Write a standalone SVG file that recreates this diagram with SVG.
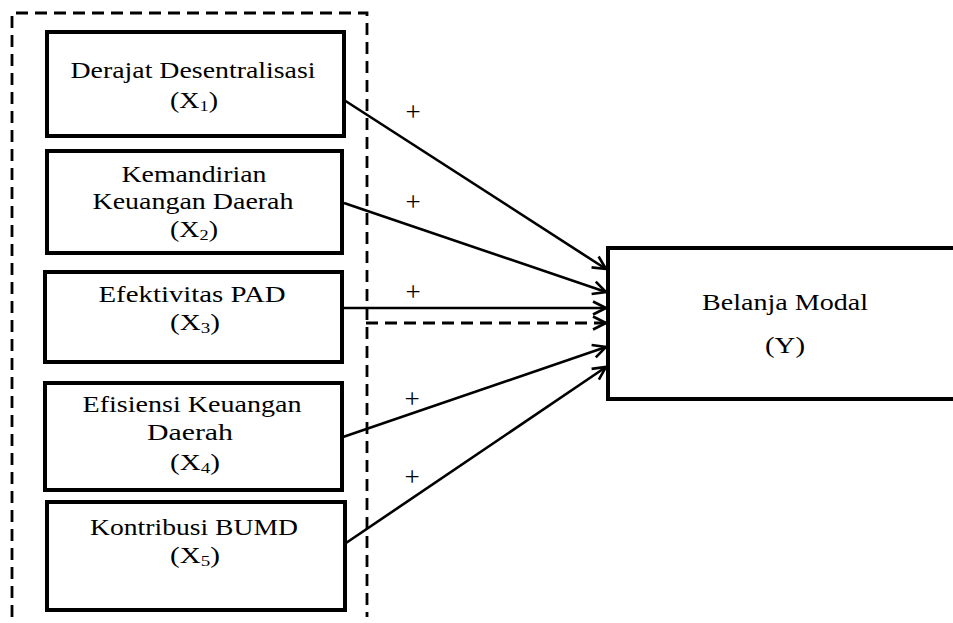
<svg xmlns="http://www.w3.org/2000/svg" width="953" height="623" viewBox="0 0 953 623">
<style>
.box{fill:#fff;stroke:#000;stroke-width:4}
.dash{fill:none;stroke:#000;stroke-width:2.8;stroke-dasharray:12 7}
.lbl{font-family:"Liberation Serif","Times New Roman",serif;font-size:23px;fill:#000;text-anchor:middle}
.sub{font-size:15px}
.conn{stroke:#000;stroke-width:2.6;fill:none}
.plus{font-family:"Liberation Serif","Times New Roman",serif;font-size:27px;fill:#000;text-anchor:middle}
</style>
<defs>
<marker id="arr" viewBox="-14 -8 16 16" refX="0" refY="0" markerWidth="16" markerHeight="16" markerUnits="userSpaceOnUse" orient="auto">
<path d="M-13,-6.5 L0,0 L-13,6.5" fill="none" stroke="#000" stroke-width="2.6"/>
</marker>
</defs>
<rect width="953" height="623" fill="#fff"/>
<g id="frame">
<path class="dash" d="M12,617 V13 H367 V617"/>
</g>
<g id="connectors">
<line class="conn" x1="344" y1="100" x2="606" y2="269" marker-end="url(#arr)"/>
<line class="conn" x1="344" y1="203" x2="606" y2="292" marker-end="url(#arr)"/>
<line class="conn" x1="343" y1="308" x2="606" y2="308" marker-end="url(#arr)"/>
<line class="dash" x1="366" y1="323" x2="606" y2="323" marker-end="url(#arr)"/>
<line class="conn" x1="343" y1="437" x2="606" y2="347" marker-end="url(#arr)"/>
<line class="conn" x1="346" y1="543" x2="606" y2="367" marker-end="url(#arr)"/>
<text class="plus" x="413" y="121">+</text>
<text class="plus" x="413" y="211">+</text>
<text class="plus" x="413" y="301">+</text>
<text class="plus" x="412" y="408">+</text>
<text class="plus" x="412" y="486">+</text>
</g>
<g id="x1">
<rect class="box" x="47" y="32" width="297" height="104"/>
<text class="lbl" x="193" y="78" textLength="245" lengthAdjust="spacingAndGlyphs">Derajat Desentralisasi</text>
<text class="lbl" x="194" y="108" textLength="48" lengthAdjust="spacingAndGlyphs">(X<tspan class="sub" dy="3">1</tspan><tspan dy="-3">)</tspan></text>
</g>
<g id="x2">
<rect class="box" x="47" y="151" width="295" height="102"/>
<text class="lbl" x="194" y="182" textLength="145" lengthAdjust="spacingAndGlyphs">Kemandirian</text>
<text class="lbl" x="193" y="209" textLength="201" lengthAdjust="spacingAndGlyphs">Keuangan Daerah</text>
<text class="lbl" x="194" y="237" textLength="48" lengthAdjust="spacingAndGlyphs">(X<tspan class="sub" dy="3">2</tspan><tspan dy="-3">)</tspan></text>
</g>
<g id="x3">
<rect class="box" x="45" y="272" width="297" height="90"/>
<text class="lbl" x="192" y="302" textLength="187" lengthAdjust="spacingAndGlyphs">Efektivitas PAD</text>
<text class="lbl" x="195" y="330" textLength="50" lengthAdjust="spacingAndGlyphs">(X<tspan class="sub" dy="3">3</tspan><tspan dy="-3">)</tspan></text>
</g>
<g id="x4">
<rect class="box" x="45" y="383" width="297" height="107"/>
<text class="lbl" x="192" y="412" textLength="219" lengthAdjust="spacingAndGlyphs">Efisiensi Keuangan</text>
<text class="lbl" x="190" y="440" textLength="86" lengthAdjust="spacingAndGlyphs">Daerah</text>
<text class="lbl" x="195" y="470" textLength="50" lengthAdjust="spacingAndGlyphs">(X<tspan class="sub" dy="3">4</tspan><tspan dy="-3">)</tspan></text>
</g>
<g id="x5">
<rect class="box" x="47" y="502" width="298" height="108"/>
<text class="lbl" x="194" y="535" textLength="208" lengthAdjust="spacingAndGlyphs">Kontribusi BUMD</text>
<text class="lbl" x="195" y="563" textLength="50" lengthAdjust="spacingAndGlyphs">(X<tspan class="sub" dy="3">5</tspan><tspan dy="-3">)</tspan></text>
</g>
<g id="y">
<rect class="box" x="608" y="248" width="360" height="151"/>
<text class="lbl" x="785" y="310" textLength="166" lengthAdjust="spacingAndGlyphs">Belanja Modal</text>
<text class="lbl" x="785" y="353" textLength="40" lengthAdjust="spacingAndGlyphs">(Y)</text>
</g>
</svg>
